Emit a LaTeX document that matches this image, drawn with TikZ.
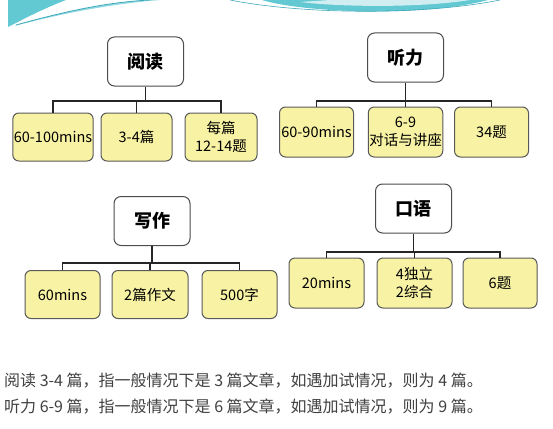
\documentclass[tikz,border=0pt]{standalone}
\usepackage{fontspec}
\setmainfont{Noto Sans CJK SC}
\usetikzlibrary{positioning}
\definecolor{leafyellow}{HTML}{F8F3A4}
\definecolor{bannerteal}{HTML}{62C8D2}
\definecolor{bannerdeep}{HTML}{3FA9BC}

\begin{document}
\begin{tikzpicture}[x=1pt, y=-1pt,
    topic/.style={draw=black!70, fill=white, line width=1pt, rounded corners=7pt,
      minimum width=76pt, minimum height=49pt, font=\fontsize{18}{20}\selectfont\bfseries},
    leaf/.style={draw=black!65, fill=leafyellow, line width=1pt, rounded corners=6pt,
      minimum width=74pt, minimum height=48pt, inner sep=1pt, align=center,
      font=\fontsize{14.5}{18.5}\selectfont},
    link/.style={draw=black!85, line width=1.3pt},
    note/.style={anchor=west, inner sep=0pt, font=\fontsize{16}{18}\selectfont\color{black!75}}]
  \useasboundingbox (0,0) rectangle (553,428);

  % banner at the top
  \fill[bannerteal] (8,0) -- (66,0) .. controls (40,10) and (22,20) .. (8,27) -- cycle;
  \fill[bannerteal!70] (14,26) .. controls (60,12) and (110,2) .. (150,0) -- (160,0)
    .. controls (110,4) and (60,14) .. (14,26) -- cycle;
  \draw[bannerdeep, line width=0.8pt] (16,25) .. controls (70,10) and (110,2) .. (150,0);
  \fill[bannerteal] (262,0) .. controls (300,12) and (420,18) .. (488,0) -- cycle;
  \fill[white!70!bannerteal] (300,2) .. controls (340,7) and (420,8) .. (470,0) -- (330,0) -- cycle;
  \draw[bannerdeep, line width=0.6pt] (230,0) .. controls (300,14) and (420,16) .. (500,0);

  % 阅读
  \node[topic] (read) at (145.5,61.5) {阅读};
  \node[leaf] (read1) at (53,137) {60-100mins};
  \node[leaf, minimum width=71pt] (read2) at (136.5,137) {3-4篇};
  \node[leaf, minimum width=72pt] (read3) at (221,137) {每篇\\12-14题};
  \coordinate (readbar) at (0,101);
  \draw[link] (read.south) -- (read.south |- readbar);
  \draw[link] (read1.north) -- (read1.north |- readbar) -- (read3.north |- readbar) -- (read3.north);
  \draw[link] (read2.north) -- (read2.north |- readbar);

  % 听力
  \node[topic] (listen) at (405.5,57.5) {听力};
  \node[leaf, minimum height=50pt] (listen1) at (316.5,132) {60-90mins};
  \node[leaf, minimum height=50pt] (listen2) at (405.5,132) {6-9\\对话与讲座};
  \node[leaf, minimum height=50pt] (listen3) at (491.5,132) {34题};
  \coordinate (listenbar) at (0,101);
  \draw[link] (listen.south) -- (listen.south |- listenbar);
  \draw[link] (listen1.north) -- (listen1.north |- listenbar) -- (listen3.north |- listenbar) -- (listen3.north);
  \draw[link] (listen2.north) -- (listen2.north |- listenbar);

  % 写作
  \node[topic] (write) at (152,221) {写作};
  \node[leaf, minimum width=75pt] (write1) at (62.5,294.5) {60mins};
  \node[leaf, minimum width=76pt] (write2) at (150,294.5) {2篇作文};
  \node[leaf, minimum width=75pt] (write3) at (239.5,294.5) {500字};
  \coordinate (writebar) at (0,263);
  \draw[link] (write.south) -- (write.south |- writebar);
  \draw[link] (write1.north) -- (write1.north |- writebar) -- (write3.north |- writebar) -- (write3.north);
  \draw[link] (write2.north) -- (write2.north |- writebar);

  % 口语
  \node[topic] (speak) at (413.5,208.5) {口语};
  \node[leaf, minimum width=75pt, minimum height=50pt] (speak1) at (326.5,283) {20mins};
  \node[leaf, minimum width=75pt, minimum height=50pt] (speak2) at (414.5,283) {4独立\\2综合};
  \node[leaf, minimum width=74pt, minimum height=50pt] (speak3) at (500,283) {6题};
  \coordinate (speakbar) at (0,252);
  \draw[link] (speak.south) -- (speak.south |- speakbar);
  \draw[link] (speak1.north) -- (speak1.north |- speakbar) -- (speak3.north |- speakbar) -- (speak3.north);
  \draw[link] (speak2.north) -- (speak2.north |- speakbar);

  % notes below
  \node[note] (note1) at (4,381) {阅读 3-4 篇，指一般情况下是 3 篇文章，如遇加试情况，则为 4 篇。};
  \node[note] (note2) at (4,407) {听力 6-9 篇，指一般情况下是 6 篇文章，如遇加试情况，则为 9 篇。};
\end{tikzpicture}
\end{document}
